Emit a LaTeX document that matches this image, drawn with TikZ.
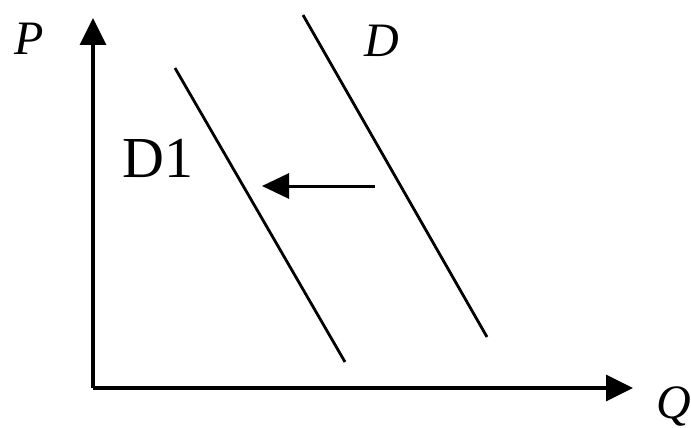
\documentclass[tikz,border=0pt]{standalone}
\usepackage{fontspec}
\setmainfont{Liberation Serif}
\usetikzlibrary{arrows.meta}
\begin{document}
\begin{tikzpicture}[x=1pt,y=-1pt,
  axis/.style={line width=3.5pt,-{Triangle[length=27pt,width=26pt]}},
  curve/.style={line width=2.8pt},
  shift arrow/.style={line width=3pt,-{Triangle[length=27pt,width=25pt]}},
  axlabel/.style={font=\itshape\fontsize{48}{48}\selectfont,inner sep=0pt},
  curvelabel/.style={font=\fontsize{58}{58}\selectfont,inner sep=0pt}]
\useasboundingbox (0,0) rectangle (691,428);
\coordinate (O) at (93,388);
\coordinate (Ptop) at (93,18);
\coordinate (Qend) at (633,388);
\draw[axis] (O) -- (Ptop);
\draw[axis] (O) -- (Qend);
\node[axlabel] (P) at (29,39) {P};
\node[axlabel] (Q) at (674,406) {Q};
\coordinate (d1a) at (175,68);
\coordinate (d1b) at (345,362);
\coordinate (da) at (303,15);
\coordinate (db) at (487,337);
\draw[curve] (d1a) -- (d1b);
\draw[curve] (da) -- (db);
\node[axlabel] (D) at (382,41) {D};
\node[curvelabel] (D1) at (158,158) {D1};
\coordinate (sa) at (375,186);
\coordinate (sb) at (262,186);
\draw[shift arrow] (sa) -- (sb);
\end{tikzpicture}
\end{document}
